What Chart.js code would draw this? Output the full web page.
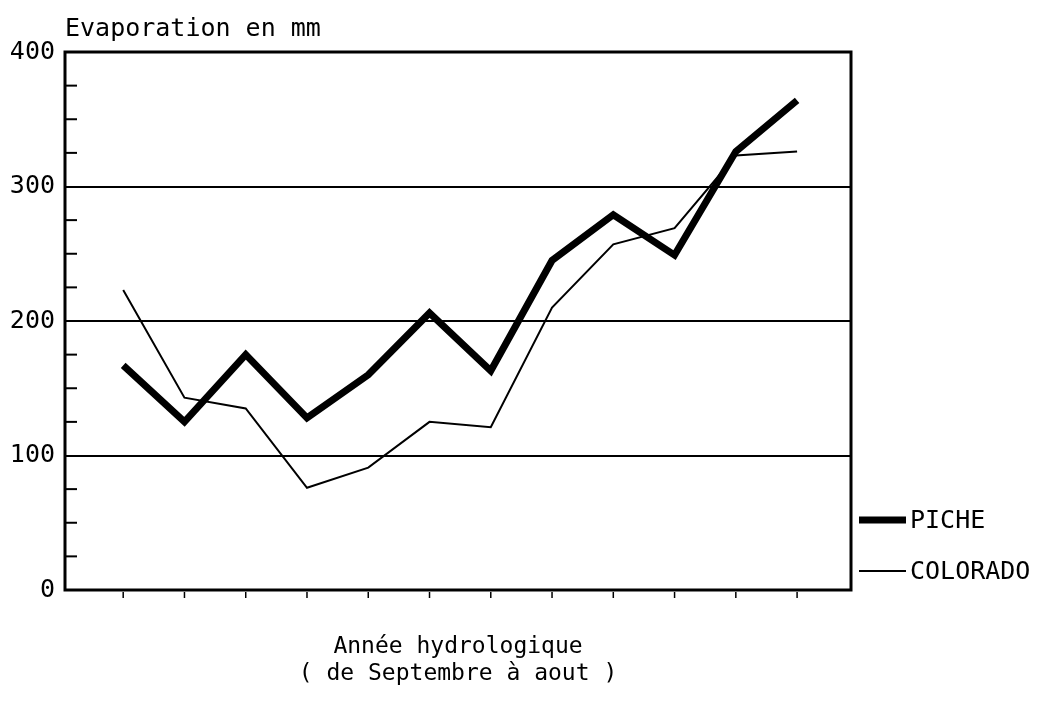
<!DOCTYPE html>
<html>
<head>
<meta charset="utf-8">
<script src="https://cdn.jsdelivr.net/npm/chart.js@4"></script>
<style>
  html, body { margin: 0; padding: 0; background: #fff; }
  #wrap { width: 1038px; height: 707px; }
</style>
</head>
<body>
<div id="wrap"><canvas id="chartId" width="1038" height="707"></canvas></div>
<script>
// one point per hydrological year (Sept -> Aug), years not labelled on the axis
const annees = [0, 1, 2, 3, 4, 5, 6, 7, 8, 9, 10, 11];
const piche = [167, 125, 175, 128, 160, 206, 163, 245, 279, 249, 326, 364];
const colorado = [223, 143, 135, 76, 91, 125, 121, 210, 257, 269, 323, 326];
const yLabels = [0, 100, 200, 300, 400];

const FONT = "'DejaVu Sans Mono', monospace";

function pts(vals) {
    return annees.map((a, i) => ({ x: a, y: vals[i] }));
}

// frame, inner ticks, y title and legend
const deco = {
    id: 'deco',
    afterDraw(chart) {
        const c = chart.ctx;
        const a = chart.chartArea;
        const sx = chart.scales.x;
        const sy = chart.scales.y;
        c.save();
        c.strokeStyle = '#000';
        // box
        c.lineWidth = 3;
        c.strokeRect(a.left, a.top, a.right - a.left, a.bottom - a.top);
        // little ticks inside the left axis
        c.lineWidth = 2;
        sy.ticks.forEach(t => {
            if (t.value % 100 === 0) return;
            const y = sy.getPixelForValue(t.value);
            c.beginPath();
            c.moveTo(a.left, y);
            c.lineTo(a.left + 12, y);
            c.stroke();
        });
        // ticks under the x axis
        c.lineWidth = 1.5;
        annees.forEach(v => {
            const x = sx.getPixelForValue(v);
            c.beginPath();
            c.moveTo(x, a.bottom + 2);
            c.lineTo(x, a.bottom + 8);
            c.stroke();
        });
        // y title
        c.fillStyle = '#000';
        c.font = "25px " + FONT;
        c.textAlign = 'left';
        c.textBaseline = 'middle';
        c.fillText('Evaporation en mm', a.left, 29);
        // legend
        const rows = [520, 571];
        chart.data.datasets.forEach((ds, i) => {
            c.lineWidth = ds.borderWidth;
            c.beginPath();
            c.moveTo(a.right + 8, rows[i]);
            c.lineTo(a.right + 55, rows[i]);
            c.stroke();
            c.font = "25px " + FONT;
            c.fillText(ds.label, a.right + 59, rows[i] + 1);
        });
        c.restore();
    }
};

const chrt = document.getElementById('chartId').getContext('2d');
const chartId = new Chart(chrt, {
    type: 'line',
    data: {
        datasets: [{
            label: 'PICHE',
            data: pts(piche),
            borderColor: '#000',
            borderWidth: 7,
            borderJoinStyle: 'miter',
            pointRadius: 0,
            tension: 0
        }, {
            label: 'COLORADO',
            data: pts(colorado),
            borderColor: '#000',
            borderWidth: 2,
            pointRadius: 0,
            tension: 0
        }]
    },
    options: {
        responsive: false,
        animation: false,
        layout: { padding: { top: 52, right: 187, left: 0, bottom: 0 } },
        plugins: {
            legend: { display: false },
            tooltip: { enabled: false }
        },
        scales: {
            x: {
                type: 'linear',
                min: -0.95,
                max: 11.88,
                grid: { display: false },
                border: { display: false },
                ticks: { display: false },
                title: {
                    display: true,
                    text: ['Année hydrologique', '( de Septembre à aout )'],
                    color: '#000',
                    font: { family: FONT, size: 23 },
                    padding: { top: 0, bottom: 19 }
                },
                afterFit(s) { s.height = 117; }
            },
            y: {
                min: 0,
                max: 400,
                grid: {
                    drawTicks: false,
                    lineWidth: 2,
                    color: ctx => {
                        const v = ctx.tick ? ctx.tick.value : 0;
                        return (v % 100 === 0 && v > 0 && v < 400) ? '#000' : 'rgba(0,0,0,0)';
                    }
                },
                border: { display: false },
                ticks: {
                    stepSize: 25,
                    padding: 10,
                    color: '#000',
                    font: { family: FONT, size: 25 },
                    callback: v => yLabels.includes(v) ? String(v) : ''
                },
                afterFit(s) { s.width = 65; }
            }
        }
    },
    plugins: [deco]
});
</script>
</body>
</html>
